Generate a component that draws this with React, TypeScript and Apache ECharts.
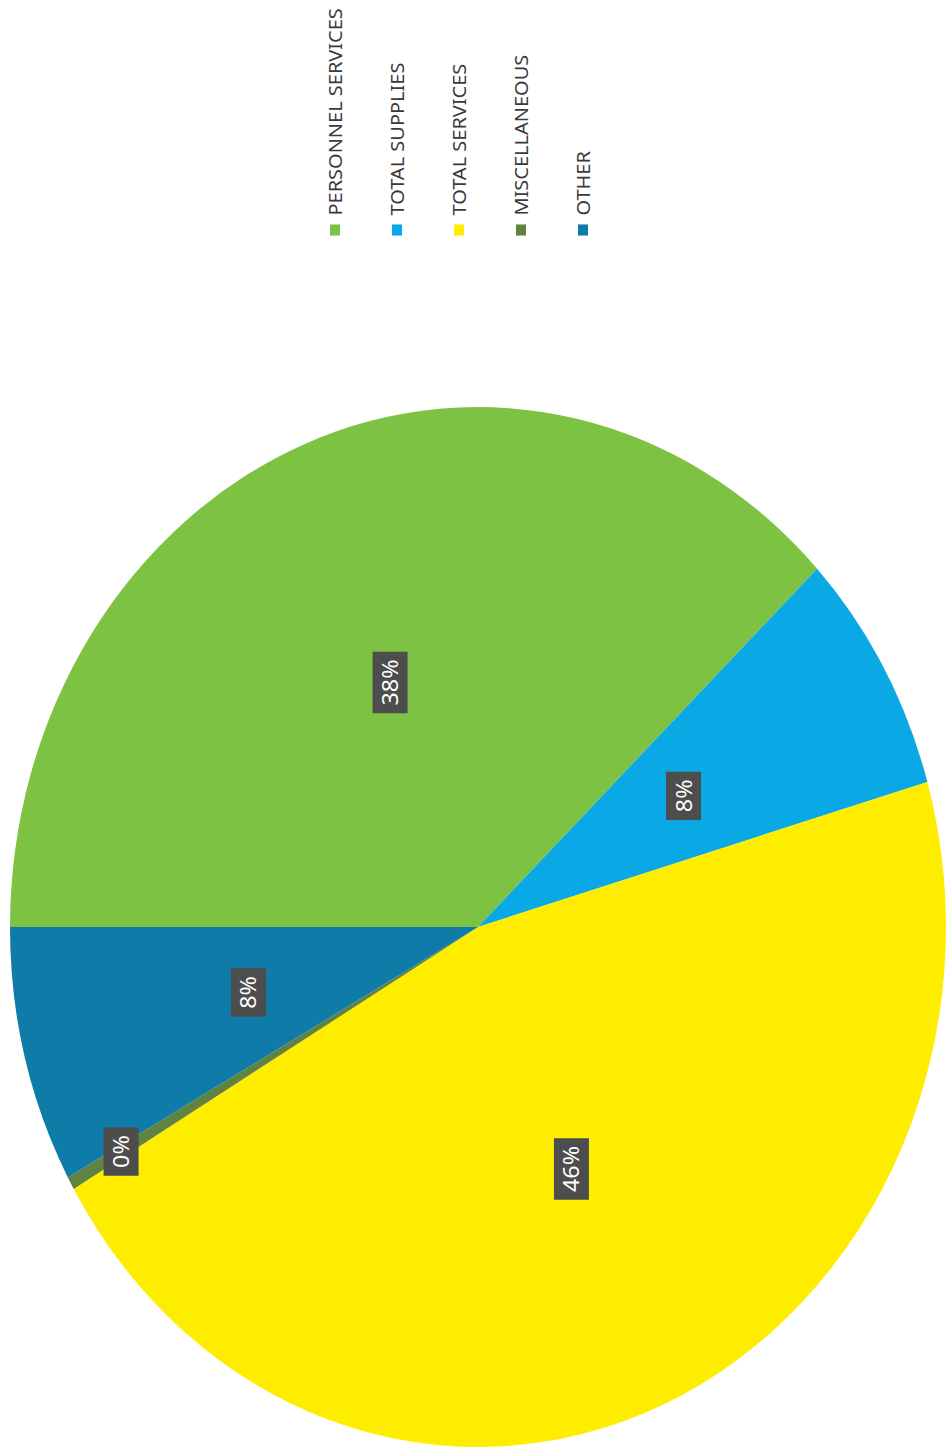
import React, { useEffect, useRef } from "react";
import * as echarts from "echarts";

// Data (read from the scanned, rotated pie)
const categories = [
  "PERSONNEL SERVICES",
  "TOTAL SUPPLIES",
  "TOTAL SERVICES",
  "MISCELLANEOUS",
  "OTHER",
];
const values = [37.9, 7.6, 46.1, 0.4, 8.0];
const colors = ["#7DC242", "#0AA9E6", "#FFED00", "#62823F", "#0E7BA9"];

// Layout (chart coordinates before the page rotation / stretch)
const CHART_W = 1305;
const CHART_H = 948;
const STRETCH = 1.1111;
const PIE_CX = 470.7;
const PIE_CY = 478;
const PIE_R = 468;
const FONT = "'Noto Sans', 'Open Sans', sans-serif";

export default function App() {
  const ref = useRef<HTMLDivElement | null>(null);

  useEffect(() => {
    if (!ref.current) return;
    const chart = echarts.init(ref.current, null, { renderer: "svg" });

    const total = values.reduce((a, b) => a + b, 0);
    const miscIndex = 3;
    const before = values.slice(0, miscIndex).reduce((a, b) => a + b, 0);
    const theta = ((before + values[miscIndex] / 2) / total) * Math.PI * 2;
    const shift = PIE_R * (0.87 - 0.5);
    const miscDx = Math.sin(theta) * shift;
    const miscDy = -Math.cos(theta) * shift;

    chart.setOption({
      animation: false,
      backgroundColor: "#ffffff",
      color: colors,
      legend: {
        orient: "vertical",
        left: 1088,
        top: 320,
        icon: "rect",
        itemWidth: 10,
        itemHeight: 10,
        itemGap: 42,
        data: categories,
        textStyle: {
          fontFamily: FONT,
          fontSize: 18,
          lineHeight: 20,
          color: "#3a3a3a",
          padding: [0, 0, 0, 3],
        },
      },
      series: [
        {
          type: "pie",
          center: [PIE_CX, PIE_CY],
          radius: [0, PIE_R],
          startAngle: 90,
          clockwise: true,
          avoidLabelOverlap: false,
          minShowLabelAngle: 0,
          itemStyle: { borderWidth: 0 },
          label: {
            show: true,
            position: "inside",
            formatter: (p: any) => Math.round(p.percent) + "%",
            color: "#ffffff",
            fontFamily: FONT,
            fontSize: 21,
            lineHeight: 21,
            backgroundColor: "#4d4d4d",
            padding: [7, 7],
          },
          labelLine: { show: false },
          labelLayout: (p: any) =>
            p.dataIndex === miscIndex ? { dx: miscDx, dy: miscDy } : {},
          emphasis: { disabled: true },
          data: categories.map((name, i) => ({ name, value: values[i] })),
        },
      ],
    });

    return () => chart.dispose();
  }, []);

  return (
    <div
      style={{
        position: "absolute",
        left: 0,
        top: 0,
        width: 948,
        height: 1450,
        overflow: "hidden",
        background: "#ffffff",
      }}
    >
      <div
        ref={ref}
        style={{
          position: "absolute",
          left: 0,
          top: 0,
          width: CHART_W,
          height: CHART_H,
          transformOrigin: "0 0",
          transform: `translate(0px, 1450px) rotate(-90deg) scale(${STRETCH}, 1)`,
        }}
      />
    </div>
  );
}
